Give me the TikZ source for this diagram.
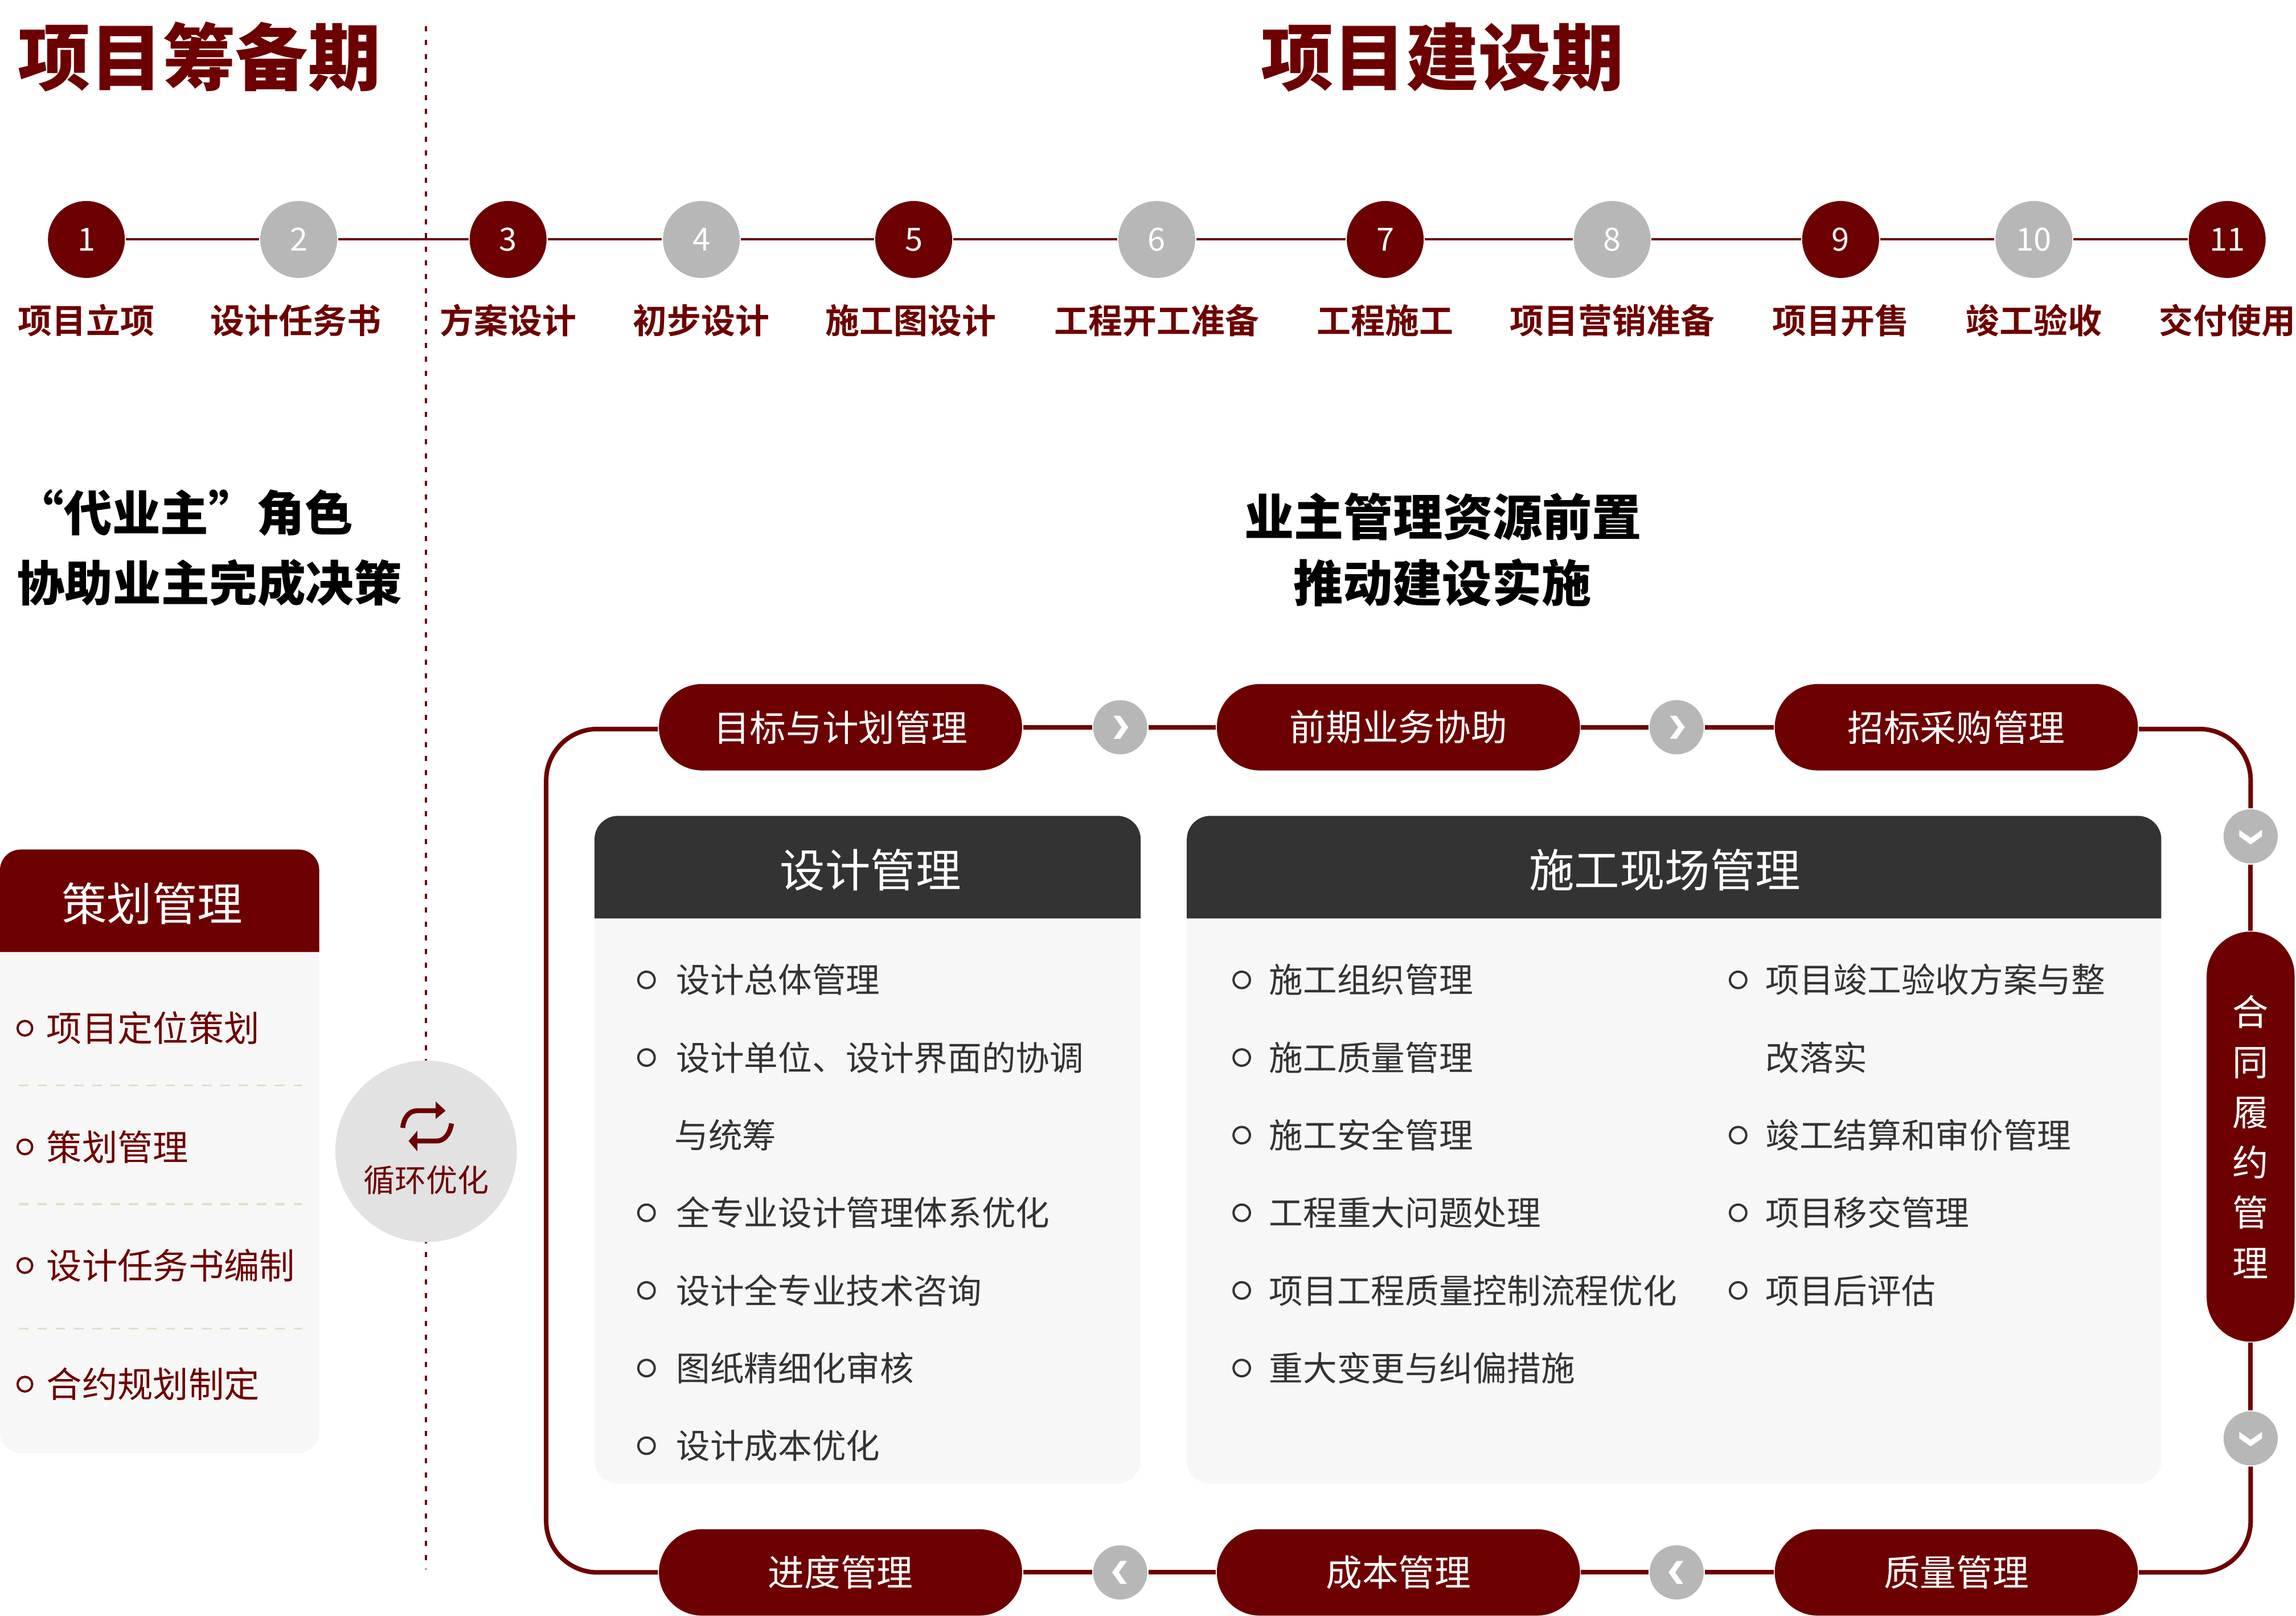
\documentclass[tikz,border=0pt]{standalone}
\usepackage{fontspec}
\setmainfont{Noto Sans CJK SC}[BoldFont=* Black]
\newfontfamily\midfont{Noto Sans CJK SC Bold}
\definecolor{maroon}{HTML}{6D0000}
\definecolor{stepgray}{HTML}{B7B7B7}
\definecolor{roundgray}{HTML}{E2E2E2}
\definecolor{panelgray}{HTML}{F7F7F7}
\definecolor{headdark}{HTML}{333333}
\definecolor{splitline}{HTML}{E6DCC8}
\tikzset{
  cjk/.style={font=\fontsize{#1}{#1}\selectfont, text height=0.88*#1 pt, text depth=0.12*#1 pt, inner sep=0pt},
  title/.style={cjk=14.1, font=\fontsize{14.1}{14.1}\selectfont\bfseries, color=maroon},
  slogan/.style={cjk=#1, font=\fontsize{#1}{#1}\selectfont\bfseries, color=black},
  stepred/.style={circle, fill=maroon, minimum size=0.525cm, inner sep=0pt, text=white, font=\fontsize{6.2}{6.2}\selectfont},
  stepgrey/.style={circle, fill=stepgray, minimum size=0.525cm, inner sep=0pt, text=white, font=\fontsize{6.2}{6.2}\selectfont},
  steptext/.style={cjk=6.63, font=\fontsize{6.63}{6.63}\selectfont\midfont, color=maroon},
  pill/.style={rectangle, rounded corners=0.295cm, fill=maroon, text=white, minimum width=2.48cm, minimum height=0.59cm, inner sep=0pt, font=\fontsize{7.05}{7.05}\selectfont},
  chevdot/.style={circle, fill=stepgray, minimum size=0.37cm, inner sep=0pt},
  chevmark/.pic={\fill[color=white] (-0.045, 0.078) -- (0, 0.078) -- (0.055, 0) -- (0, -0.078) -- (-0.045, -0.078) -- (0.01, 0) -- cycle;},
  looplink/.style={draw=maroon, line width=0.88pt},
  headtext/.style={cjk=8.8, color=white},
  darkitem/.style={draw=headdark, line width=0.44pt},
  darktext/.style={cjk=6.6, color=headdark},
  reditem/.style={draw=maroon, line width=0.44pt},
  redtext/.style={cjk=6.9, color=maroon},
  split/.style={draw=splitline, line width=0.4pt, dash pattern=on 0.065cm off 0.06cm},
}
\begin{document}
\begin{tikzpicture}
  \useasboundingbox (0, 0) rectangle (15.68, -11.03);
  \coordinate (divtop) at (2.91, -0.18);
  \coordinate (divbot) at (2.91, -10.71);
  \draw[color=maroon, line width=0.4pt, dash pattern=on 0.035cm off 0.059cm] (divtop) -- (divbot);

  \node[title, anchor=west] (prep) at (0.115, -0.39) {项目筹备期};
  \node[title] (build) at (9.85, -0.39) {项目建设期};

  \node[stepred] (s1) at (0.59, -1.635) {1};
  \node[stepgrey] (s2) at (2.04, -1.635) {2};
  \node[stepred] (s3) at (3.47, -1.635) {3};
  \node[stepgrey] (s4) at (4.79, -1.635) {4};
  \node[stepred] (s5) at (6.24, -1.635) {5};
  \node[stepgrey] (s6) at (7.90, -1.635) {6};
  \node[stepred] (s7) at (9.46, -1.635) {7};
  \node[stepgrey] (s8) at (11.01, -1.635) {8};
  \node[stepred] (s9) at (12.57, -1.635) {9};
  \node[stepgrey] (s10) at (13.89, -1.635) {10};
  \node[stepred] (s11) at (15.21, -1.635) {11};
  \draw[color=maroon, line width=0.45pt] (s1) -- (s2) -- (s3) -- (s4) -- (s5) -- (s6) -- (s7) -- (s8) -- (s9) -- (s10) -- (s11);

  \node[steptext] (t1) at (0.59, -2.19) {项目立项};
  \node[steptext] (t2) at (2.02, -2.19) {设计任务书};
  \node[steptext] (t3) at (3.47, -2.19) {方案设计};
  \node[steptext] (t4) at (4.79, -2.19) {初步设计};
  \node[steptext] (t5) at (6.22, -2.19) {施工图设计};
  \node[steptext] (t6) at (7.90, -2.19) {工程开工准备};
  \node[steptext] (t7) at (9.46, -2.19) {工程施工};
  \node[steptext] (t8) at (11.01, -2.19) {项目营销准备};
  \node[steptext] (t9) at (12.57, -2.19) {项目开售};
  \node[steptext] (t10) at (13.89, -2.19) {竣工验收};
  \node[steptext] (t11) at (15.21, -2.19) {交付使用};

  \node[slogan=9.36] (role1) at (1.26, -3.5) {“代业主”角色};
  \node[slogan=9.36] (role2) at (1.43, -3.98) {协助业主完成决策};
  \node[slogan=9.65] (res1) at (9.855, -3.53) {业主管理资源前置};
  \node[slogan=9.65] (res2) at (9.85, -3.98) {推动建设实施};

  \fill[color=panelgray, rounded corners=0.14cm] (0, -6.2) rectangle (2.18, -9.92);
  \fill[color=maroon] (0, -6.5) [rounded corners=0.14cm] -- (0, -5.8) -- (2.18, -5.8) [sharp corners] -- (2.18, -6.5) -- cycle;
  \node[headtext] (plan) at (1.04, -6.17) {策划管理};
  \draw[reditem] (0.17, -7.02) node[right=0.14cm, redtext] (p1) {项目定位策划} circle (0.05);
  \draw[reditem] (0.17, -7.83) node[right=0.14cm, redtext] (p2) {策划管理} circle (0.05);
  \draw[reditem] (0.17, -8.64) node[right=0.14cm, redtext] (p3) {设计任务书编制} circle (0.05);
  \draw[reditem] (0.17, -9.45) node[right=0.14cm, redtext] (p4) {合约规划制定} circle (0.05);
  \draw[split] (0.13, -7.41) -- (2.06, -7.41);
  \draw[split] (0.13, -8.22) -- (2.06, -8.22);
  \draw[split] (0.13, -9.07) -- (2.06, -9.07);

  \node[circle, fill=roundgray, minimum size=1.24cm, inner sep=0pt] (cycle) at (2.91, -7.86) {};
  \node[cjk=6.1, color=maroon] (cycletext) at (2.91, -8.055) {循环优化};
  \draw[color=maroon, line width=0.95pt] (2.75, -7.70) .. controls (2.76, -7.62) and (2.80, -7.583) .. (2.85, -7.583) -- (2.98, -7.583);
  \fill[color=maroon] (2.975, -7.52) -- (3.043, -7.583) -- (2.975, -7.64) -- cycle;
  \draw[color=maroon, line width=0.95pt] (3.084, -7.67) .. controls (3.07, -7.75) and (3.03, -7.79) .. (2.98, -7.79) -- (2.85, -7.79);
  \fill[color=maroon] (2.85, -7.72) -- (2.79, -7.79) -- (2.85, -7.86) -- cycle;

  \node[pill] (goal) at (5.74, -4.965) {目标与计划管理};
  \node[chevdot] (c1) at (7.65, -4.965) {};
  \node[pill] (early) at (9.55, -4.965) {前期业务协助};
  \node[chevdot] (c2) at (11.45, -4.965) {};
  \node[pill] (tender) at (13.36, -4.965) {招标采购管理};
  \node[chevdot] (c3) at (15.37, -5.71) {};
  \node[rectangle, rounded corners=0.3cm, fill=maroon, text=white, minimum width=0.6cm, minimum height=2.8cm, inner sep=0pt, align=center, font=\fontsize{7}{9.76}\selectfont] (contract) at (15.37, -7.76) {合\\同\\履\\约\\管\\理};
  \node[chevdot] (c4) at (15.37, -9.82) {};
  \node[pill] (quality) at (13.36, -10.735) {质量管理};
  \node[chevdot] (c5) at (11.45, -10.735) {};
  \node[pill] (cost) at (9.55, -10.735) {成本管理};
  \node[chevdot] (c6) at (7.65, -10.735) {};
  \node[pill] (pace) at (5.74, -10.735) {进度管理};
  \coordinate (loopleft) at (3.73, -7.85);
  \draw[looplink, yshift=-0.012cm] (goal) -- (c1) -- (early) -- (c2) -- (tender);
  \draw[looplink, rounded corners=0.35cm] ([yshift=-0.012cm]tender.east) -| (c3.north);
  \draw[looplink] (c3) -- (contract) -- (c4);
  \draw[looplink, rounded corners=0.35cm] (c4.south) |- (quality.east);
  \draw[looplink] (quality) -- (c5) -- (cost) -- (c6) -- (pace);
  \draw[looplink, rounded corners=0.35cm] (pace.west) -| (loopleft) |- ([yshift=-0.012cm]goal.west);

  \pic at (c1) {chevmark};
  \pic at (c2) {chevmark};
  \pic[rotate=-90] at (c3) {chevmark};
  \pic[rotate=-90] at (c4) {chevmark};
  \pic[rotate=180] at (c5) {chevmark};
  \pic[rotate=180] at (c6) {chevmark};

  \fill[color=panelgray, rounded corners=0.16cm] (4.06, -6.0) rectangle (7.79, -10.13);
  \fill[color=headdark] (4.06, -6.27) [rounded corners=0.16cm] -- (4.06, -5.57) -- (7.79, -5.57) [sharp corners] -- (7.79, -6.27) -- cycle;
  \node[headtext] (design) at (5.945, -5.94) {设计管理};
  \draw[darkitem] (4.415, -6.69) node[right=0.195cm, darktext] (d1) {设计总体管理} circle (0.056);
  \draw[darkitem] (4.415, -7.22) node[right=0.195cm, darktext] (d2) {设计单位、设计界面的协调} circle (0.056);
  \node[darktext, anchor=west] (d2b) at (4.60, -7.75) {与统筹};
  \draw[darkitem] (4.415, -8.28) node[right=0.195cm, darktext] (d3) {全专业设计管理体系优化} circle (0.056);
  \draw[darkitem] (4.415, -8.81) node[right=0.195cm, darktext] (d4) {设计全专业技术咨询} circle (0.056);
  \draw[darkitem] (4.415, -9.34) node[right=0.195cm, darktext] (d5) {图纸精细化审核} circle (0.056);
  \draw[darkitem] (4.415, -9.87) node[right=0.195cm, darktext] (d6) {设计成本优化} circle (0.056);

  \fill[color=panelgray, rounded corners=0.16cm] (8.105, -6.0) rectangle (14.76, -10.13);
  \fill[color=headdark] (8.105, -6.27) [rounded corners=0.16cm] -- (8.105, -5.57) -- (14.76, -5.57) [sharp corners] -- (14.76, -6.27) -- cycle;
  \node[headtext] (site) at (11.37, -5.94) {施工现场管理};
  \draw[darkitem] (8.48, -6.69) node[right=0.18cm, darktext] (m1) {施工组织管理} circle (0.056);
  \draw[darkitem] (8.48, -7.22) node[right=0.18cm, darktext] (m2) {施工质量管理} circle (0.056);
  \draw[darkitem] (8.48, -7.75) node[right=0.18cm, darktext] (m3) {施工安全管理} circle (0.056);
  \draw[darkitem] (8.48, -8.28) node[right=0.18cm, darktext] (m4) {工程重大问题处理} circle (0.056);
  \draw[darkitem] (8.48, -8.81) node[right=0.18cm, darktext] (m5) {项目工程质量控制流程优化} circle (0.056);
  \draw[darkitem] (8.48, -9.34) node[right=0.18cm, darktext] (m6) {重大变更与纠偏措施} circle (0.056);
  \draw[darkitem] (11.87, -6.69) node[right=0.18cm, darktext] (n1) {项目竣工验收方案与整} circle (0.056);
  \node[darktext, anchor=west] (n1b) at (12.05, -7.22) {改落实};
  \draw[darkitem] (11.87, -7.75) node[right=0.18cm, darktext] (n2) {竣工结算和审价管理} circle (0.056);
  \draw[darkitem] (11.87, -8.28) node[right=0.18cm, darktext] (n3) {项目移交管理} circle (0.056);
  \draw[darkitem] (11.87, -8.81) node[right=0.18cm, darktext] (n4) {项目后评估} circle (0.056);
\end{tikzpicture}
\end{document}
